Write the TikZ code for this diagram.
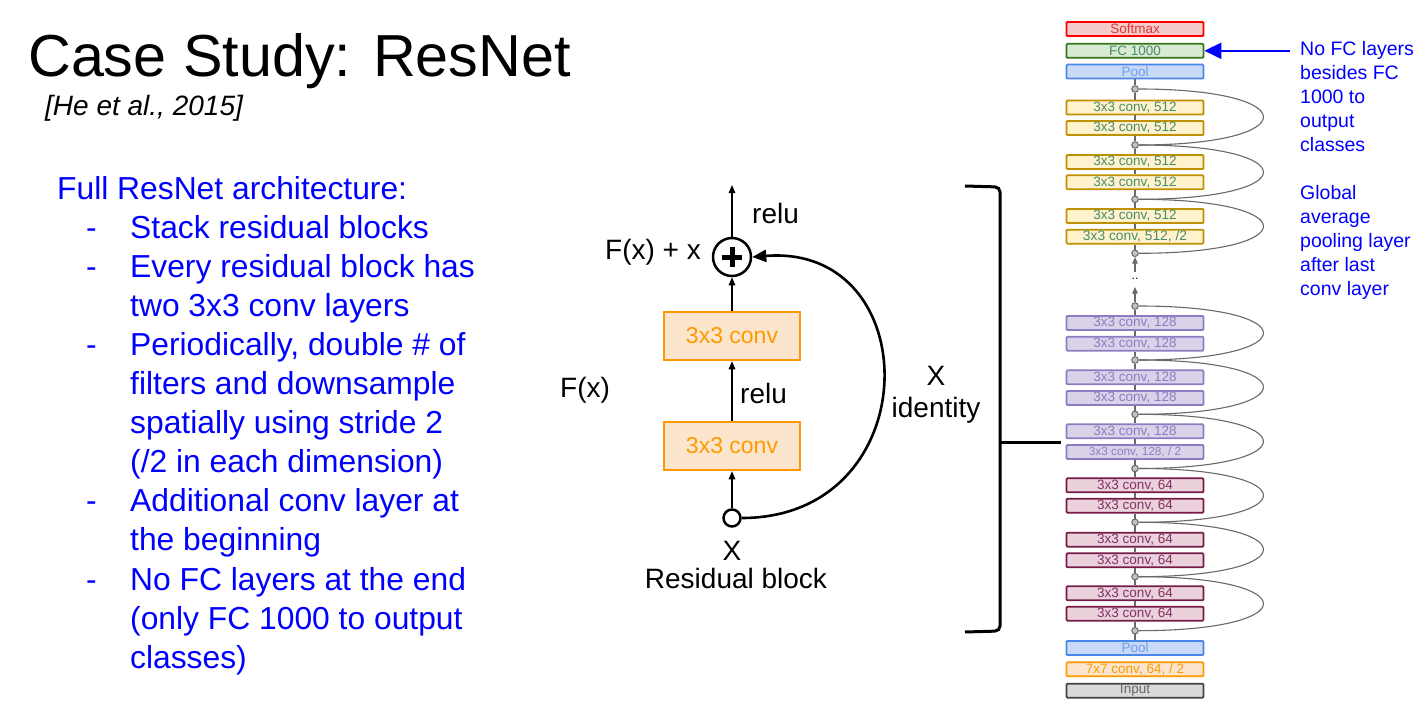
\documentclass[tikz,border=0pt]{standalone}
\usepackage{fontspec}
\setmainfont{Liberation Sans}
\usetikzlibrary{arrows.meta,calc}
\definecolor{blu}{RGB}{0,0,255}
\definecolor{gline}{RGB}{105,105,105}
\definecolor{gfill}{RGB}{195,195,195}
\definecolor{smF}{RGB}{244,204,204}\definecolor{smD}{RGB}{255,0,0}\definecolor{smT}{RGB}{230,50,50}
\definecolor{fcF}{RGB}{217,234,211}\definecolor{fcD}{RGB}{56,118,29}\definecolor{grT}{RGB}{70,140,110}
\definecolor{plF}{RGB}{201,218,248}\definecolor{plD}{RGB}{74,134,232}\definecolor{plT}{RGB}{109,158,235}
\definecolor{yeF}{RGB}{255,242,204}\definecolor{yeD}{RGB}{191,144,0}
\definecolor{puF}{RGB}{217,210,233}\definecolor{puD}{RGB}{142,124,195}
\definecolor{maF}{RGB}{234,209,220}\definecolor{maD}{RGB}{116,27,71}\definecolor{maT}{RGB}{130,50,100}
\definecolor{orF}{RGB}{252,229,205}\definecolor{orD}{RGB}{255,153,0}
\definecolor{inF}{RGB}{217,217,217}\definecolor{inD}{RGB}{67,67,67}\definecolor{inT}{RGB}{102,102,102}
\begin{document}
\begin{tikzpicture}[x=1pt,y=-1pt,
  bluetext/.style={anchor=base west,inner sep=0pt,text=blu,font=\fontsize{31.8}{36}\selectfont},
  notetext/.style={anchor=base west,inner sep=0pt,text=blu,font=\fontsize{19.5}{22}\selectfont},
  blk/.style={inner sep=0pt,font=\fontsize{28}{32}\selectfont},
  resbox/.style={draw=orD,fill=orF,text=orD,line width=2.5pt,minimum width=136pt,minimum height=48pt,inner sep=0pt,font=\fontsize{23}{26}\selectfont},
  arr/.style={line width=1.4pt,-{Triangle[length=8pt,width=6.5pt]}},
  layer/.style={draw,line width=1.8pt,rounded corners=1pt,minimum width=137pt,minimum height=14pt,inner sep=0pt,font=\fontsize{13.5}{14}\selectfont},
  lsm/.style={layer,draw=smD,fill=smF,text=smT},
  lfc/.style={layer,draw=fcD,fill=fcF,text=grT},
  lpl/.style={layer,draw=plD,fill=plF,text=plT},
  lye/.style={layer,draw=yeD,fill=yeF,text=grT},
  lpu/.style={layer,draw=puD,fill=puF,text=puD},
  lma/.style={layer,draw=maD,fill=maF,text=maT},
  lor/.style={layer,draw=orD,fill=orF,text=orD},
  lin/.style={layer,draw=inD,fill=inF,text=inT},
  gc/.style={circle,draw=gline,fill=gfill,line width=1pt,minimum size=6.5pt,inner sep=0pt},
  gl/.style={draw=gline,line width=1.2pt},
  garr/.style={gl,-{Triangle[length=6.5pt,width=5.5pt]}},
  skip/.style={draw=gline,line width=1.1pt}
]
\useasboundingbox (0,0) rectangle (1422,717);
\fill[white] (0,0) rectangle (1422,717);

% title
\node[anchor=base west,inner sep=0pt,font=\fontsize{59.3}{66}\selectfont] (title) at (28,77) {Case Study: ResNet};
\node[anchor=base west,inner sep=0pt,font=\fontsize{28}{30}\selectfont\itshape] (cite) at (45,115) {[He et al., 2015]};

% left blue text
\def\lsp{39.1}
\node[bluetext] (t0) at (57,199) {Full ResNet architecture:};
\foreach \i/\dash/\txt in {1/-/{Stack residual blocks},2/-/{Every residual block has},3//{two 3x3 conv layers},4/-/{Periodically, double \# of},5//{filters and downsample},6//{spatially using stride 2},7//{(/2 in each dimension)},8/-/{Additional conv layer at},9//{the beginning},10/-/{No FC layers at the end},11//{(only FC 1000 to output},12//{classes)}}{
  \node[bluetext] (t\i) at (130,199+\i*\lsp) {\txt};
  \node[bluetext] (d\i) at (86,199+\i*\lsp) {\dash};
}

% residual block
\node[resbox] (b2) at (732,336) {3x3 conv};
\node[resbox] (b1) at (732,446) {3x3 conv};
\node[circle,draw,line width=2.5pt,minimum size=38pt,inner sep=0pt,fill=white] (plus) at (732,257) {};
\draw[line width=5pt] ($(plus)+(-10,0)$) -- ($(plus)+(10,0)$);
\draw[line width=5pt] ($(plus)+(0,-10)$) -- ($(plus)+(0,10)$);
\node[circle,draw,line width=2.5pt,minimum size=17pt,inner sep=0pt,fill=white] (x0) at (732,518) {};
\coordinate (out) at (732,185);
\draw[arr] (plus) -- (out);
\draw[arr] (b2) -- (plus);
\draw[arr] (b1) -- (b2);
\draw[arr] (x0) -- (b1);
\draw[line width=2.6pt,-{Triangle[length=14pt,width=12pt]}] (x0.east) .. controls (928,518) and (928,243) .. (plus.east);
\node[blk,anchor=base west] (relu2) at (752,223) {relu};
\node[blk,anchor=base east] (fxx) at (701,259) {F(x) + x};
\node[blk,anchor=base west] (fx) at (560,397) {F(x)};
\node[blk,anchor=base west] (relu1) at (740,403) {relu};
\node[blk,anchor=base] (xl) at (732,560) {X};
\node[blk,anchor=base] (rb) at (736,588) {Residual block};
\node[blk,anchor=base] (xi) at (936,385) {X};
\node[blk,anchor=base] (id) at (936,417) {identity};

% bracket
\coordinate (br1) at (965,186);
\coordinate (br2) at (1000,187);
\coordinate (br3) at (1000,631);
\coordinate (br4) at (965,632);
\coordinate (brm) at (1000,442);
\coordinate (brt) at (1061,442);
\draw[line width=3pt,rounded corners=5pt] (br1) -- (br2) -- (br3) -- (br4);
\draw[line width=3pt] (brm) -- (brt);

% right column
\def\cx{1135}
\node[lsm] (softmax) at (\cx,29) {Softmax};
\node[lfc] (fc) at (\cx,50.8) {FC 1000};
\node[lpl] (pool1) at (\cx,71.6) {Pool};
\node[gc] (c0) at (\cx,89) {};
\node[lye] (a1) at (\cx,107.5) {3x3 conv, 512};
\node[lye] (a2) at (\cx,128) {3x3 conv, 512};
\node[gc] (c1) at (\cx,145) {};
\node[lye] (a3) at (\cx,162) {3x3 conv, 512};
\node[lye] (a4) at (\cx,182.3) {3x3 conv, 512};
\node[gc] (c2) at (\cx,199.3) {};
\node[lye] (a5) at (\cx,216) {3x3 conv, 512};
\node[lye,font=\fontsize{13.8}{14}\selectfont] (a6) at (\cx,236.7) {3x3 conv, 512, /2};
\node[gc] (c3) at (\cx,253.3) {};
\node[inner sep=0pt,font=\fontsize{12}{12}\selectfont] (dots) at (\cx,279) {..};
\coordinate (g1) at (\cx,272);
\coordinate (g2) at (\cx,287);
\node[gc] (c4) at (\cx,306) {};
\node[lpu] (p1) at (\cx,323) {3x3 conv, 128};
\node[lpu] (p2) at (\cx,343.7) {3x3 conv, 128};
\node[gc] (c5) at (\cx,360) {};
\node[lpu] (p3) at (\cx,377.3) {3x3 conv, 128};
\node[lpu] (p4) at (\cx,398) {3x3 conv, 128};
\node[gc] (c6) at (\cx,414.3) {};
\node[lpu] (p5) at (\cx,431.3) {3x3 conv, 128};
\node[lpu,font=\fontsize{11.8}{12}\selectfont] (p6) at (\cx,452) {3x3 conv, 128, / 2};
\node[gc] (c7) at (\cx,468.5) {};
\node[lma] (m1) at (\cx,485.3) {3x3 conv, 64};
\node[lma] (m2) at (\cx,505.7) {3x3 conv, 64};
\node[gc] (c8) at (\cx,522.3) {};
\node[lma] (m3) at (\cx,539.7) {3x3 conv, 64};
\node[lma] (m4) at (\cx,560.3) {3x3 conv, 64};
\node[gc] (c9) at (\cx,576.7) {};
\node[lma] (m5) at (\cx,593.3) {3x3 conv, 64};
\node[lma] (m6) at (\cx,613.7) {3x3 conv, 64};
\node[gc] (c10) at (\cx,630.7) {};
\node[lpl] (pool2) at (\cx,648) {Pool};
\node[lor] (conv7) at (\cx,669.3) {7x7 conv, 64, / 2};
\node[lin] (input) at (\cx,690.7) {Input};

% trunk
\draw[gl] (pool1) -- (c0) -- (a1) -- (a2) -- (c1) -- (a3) -- (a4) -- (c2) -- (a5) -- (a6) -- (c3);
\draw[gl] (c4) -- (p1) -- (p2) -- (c5) -- (p3) -- (p4) -- (c6) -- (p5) -- (p6) -- (c7) -- (m1) -- (m2) -- (c8) -- (m3) -- (m4) -- (c9) -- (m5) -- (m6) -- (c10) -- (pool2);
\draw[garr] (g1) -- (c3);
\draw[garr] (c4) -- (g2);

% skip arcs
\foreach \s/\e in {c0/c1,c1/c2,c2/c3,c4/c5,c5/c6,c6/c7,c7/c8,c8/c9,c9/c10}{
  \draw[skip] (\s) .. controls ($(\s)+(170,0)$) and ($(\e)+(170,0)$) .. (\e);
}

% note
\coordinate (note) at (1290,50.8);
\draw[blu,line width=2.2pt,-{Triangle[length=17pt,width=16pt]}] (note) -- (fc.east);
\foreach \i/\txt in {0/No FC layers,1/besides FC,2/1000 to,3/output,4/classes}{
  \node[notetext] (n\i) at (1300,55.7+\i*24) {\txt};
}
\foreach \i/\txt in {0/Global,1/average,2/pooling layer,3/after last,4/conv layer}{
  \node[notetext] (m\i x) at (1300,199.3+\i*24) {\txt};
}
\end{tikzpicture}
\end{document}
